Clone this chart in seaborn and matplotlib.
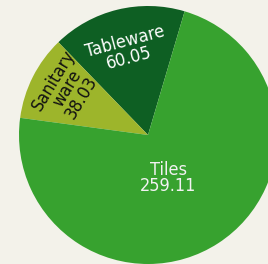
import numpy as np
import matplotlib
matplotlib.use("Agg")
import matplotlib.pyplot as plt
import seaborn as sns

categories = ["Tableware", "Sanitary\nware", "Tiles"]
values = [60.05, 38.03, 259.11]
colors = ["#0e5f23", "#9db52b", "#37a22f"]
text_colors = ["white", "#111111", "#f2f2f2"]
rotations = [15, 59, 0]
label_radius = [0.68, 0.72, 0.37]
angle_shift = [0, -3, -8]

sns.set_style("white")
plt.rcParams["font.family"] = ["DejaVu Sans"]

fig = plt.figure(figsize=(2.68, 2.64), dpi=100)
fig.patch.set_facecolor("#f3f2ea")
ax = fig.add_axes([0, 0, 1, 1])
ax.set_facecolor("#f3f2ea")

wedges, _ = ax.pie(values, colors=colors, startangle=73.5, counterclock=True,
                   radius=1, center=(0, 0), wedgeprops=dict(linewidth=0))

for w, name, val, tc, rot, r, shift in zip(wedges, categories, values,
                                          text_colors, rotations, label_radius, angle_shift):
    mid = np.deg2rad((w.theta1 + w.theta2) / 2 + shift)
    ax.text(r * np.cos(mid), r * np.sin(mid), f"{name}\n{val:.2f}",
            ha="center", va="center", color=tc, rotation=rot,
            fontsize=13, fontstretch="condensed", fontweight="medium",
            linespacing=0.88, rotation_mode="anchor")

# pie centre sits at (148, 135) px with a 129 px radius, cropped at the right and bottom
scale = 129
ax.set_xlim(-148 / scale, (268 - 148) / scale)
ax.set_ylim(-(264 - 135) / scale, 135 / scale)
ax.set_aspect("auto")
ax.axis("off")

fig.savefig("out.png", dpi=100, facecolor=fig.get_facecolor())
